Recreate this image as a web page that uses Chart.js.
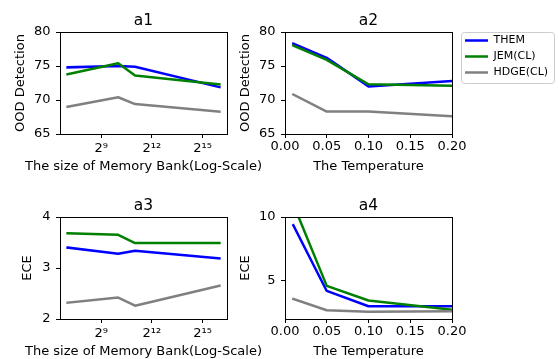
<!DOCTYPE html>
<html>
<head>
<meta charset="utf-8">
<script src="https://cdn.jsdelivr.net/npm/chart.js@4.4.0/dist/chart.umd.min.js"></script>
<style>
  html, body { margin: 0; padding: 0; background: #fff; }
  #fig { position: relative; width: 558px; height: 359px; overflow: hidden; background: #fff; }
  #fig canvas { position: absolute; }
</style>
</head>
<body>
<div id="fig">
  <canvas id="a1" width="280" height="177" style="left:0px;top:7px;width:280px;height:177px"></canvas>
  <canvas id="a2" width="247" height="177" style="left:225px;top:7px;width:247px;height:177px"></canvas>
  <canvas id="a3" width="280" height="177" style="left:0px;top:192px;width:280px;height:177px"></canvas>
  <canvas id="a4" width="247" height="177" style="left:225px;top:192px;width:247px;height:177px"></canvas>
  <canvas id="leg" width="98" height="130" style="left:460px;top:30px;width:98px;height:130px"></canvas>
</div>
<script>
// series
const seriesNames = ['THEM', 'JEM(CL)', 'HDGE(CL)'];
const seriesColors = ['#0000ff', '#008000', '#808080'];

// x values
const memSizes = [128, 1024, 2048, 65536];
const temps = [0.01, 0.05, 0.1, 0.2];

// a1: OOD detection vs memory bank size
const oodMemThem = [74.8, 75.0, 74.9, 71.9];
const oodMemJem = [73.8, 75.4, 73.6, 72.3];
const oodMemHdge = [69.0, 70.4, 69.4, 68.3];

// a2: OOD detection vs temperature
const oodTempThem = [78.3, 76.2, 72.0, 72.8];
const oodTempJem = [78.0, 75.9, 72.3, 72.1];
const oodTempHdge = [70.8, 68.3, 68.3, 67.6];

// a3: ECE vs memory bank size
const eceMemThem = [3.40, 3.28, 3.34, 3.19];
const eceMemJem = [3.68, 3.65, 3.49, 3.49];
const eceMemHdge = [2.32, 2.42, 2.26, 2.65];

// a4: ECE vs temperature
const eceTempThem = [9.35, 4.2, 3.0, 3.0];
const eceTempJem = [11.0, 4.6, 3.45, 2.72];
const eceTempHdge = [3.57, 2.69, 2.57, 2.61];

// tick labels
const memTicks = [512, 4096, 32768];
const tempTicks = [0, 0.05, 0.1, 0.15, 0.2];
const oodTicks = [65, 70, 75, 80];
const eceMemTicks = [2, 3, 4];
const eceTempTicks = [5, 10];

const FONT = 'DejaVu Sans';
Chart.defaults.font.family = FONT;
Chart.defaults.color = '#000';

const sup = n => String(n).split('').map(d => '⁰¹²³⁴⁵⁶⁷⁸⁹'[+d]).join('');
const memLabel = v => '2' + sup(Math.round(Math.log2(v)));
const tempLabel = v => Number(v).toFixed(2);

// black box round the plot area, drawn over the lines like matplotlib spines
const boxFrame = {
    id: 'boxFrame',
    afterDatasetsDraw(chart) {
        const { ctx, chartArea: a } = chart;
        const px = v => Math.round(v - 0.5) + 0.5;
        ctx.save();
        ctx.strokeStyle = '#000';
        ctx.lineWidth = 1;
        ctx.strokeRect(px(a.left), px(a.top), px(a.right) - px(a.left), px(a.bottom) - px(a.top));
        ctx.restore();
    }
};

// x axis label, not squeezed to the plot width (long label on a1/a3)
const xTitle = {
    id: 'xTitle',
    afterDraw(chart, args, opts) {
        const { ctx, chartArea: a } = chart;
        ctx.save();
        ctx.font = '13px "' + FONT + '"';
        ctx.fillStyle = '#000';
        ctx.textAlign = 'center';
        ctx.textBaseline = 'middle';
        ctx.fillText(opts.text, (a.left + a.right) / 2, a.bottom + 33);
        ctx.restore();
    }
};

function lineSets(xs, ysList) {
    return ysList.map((ys, i) => ({
        label: seriesNames[i],
        data: xs.map((x, j) => ({ x: x, y: ys[j] })),
        borderColor: seriesColors[i],
        backgroundColor: seriesColors[i],
        borderWidth: 2.5,
        pointRadius: 0,
        tension: 0,
        fill: false,
        clip: 0,
        borderJoinStyle: 'round',
        borderCapStyle: 'square',
        order: ysList.length - i
    }));
}

function xAxis(type, min, max, ticks, fmt, pad) {
    return {
        type: type, min: min, max: max,
        afterBuildTicks: s => { s.ticks = ticks.map(v => ({ value: v })); },
        afterFit: s => { s.height = 50; s.paddingLeft = 0; s.paddingRight = 0; },
        ticks: { autoSkip: false, maxRotation: 0, minRotation: 0, padding: pad, font: { size: 13 }, color: '#000', callback: fmt },
        grid: { drawOnChartArea: false, tickLength: 4, tickColor: '#000', tickWidth: 1 },
        border: { color: '#000', width: 1 }
    };
}

function yAxis(min, max, ticks, title, titlePad) {
    return {
        type: 'linear', min: min, max: max,
        afterBuildTicks: s => { s.ticks = ticks.map(v => ({ value: v })); },
        afterFit: s => { s.width = 60; s.paddingTop = 0; s.paddingBottom = 0; },
        ticks: { autoSkip: false, padding: 5.5, font: { size: 13 }, color: '#000' },
        grid: { drawOnChartArea: false, tickLength: 4, tickColor: '#000', tickWidth: 1 },
        border: { color: '#000', width: 1 },
        title: { display: true, text: title, font: { size: 13 }, color: '#000', padding: { top: titlePad, bottom: 0 } }
    };
}

function makeChart(id, name, datasets, x, y, xLabel, padRight) {
    return new Chart(document.getElementById(id), {
        type: 'line',
        data: { datasets: datasets },
        options: {
            responsive: false,
            animation: false,
            events: [],
            layout: { padding: { left: 0, top: 0, right: padRight, bottom: 0 } },
            plugins: {
                legend: { display: false },
                tooltip: { enabled: false },
                title: {
                    display: true, text: name, fullSize: false, color: '#000',
                    font: { size: 15.5, weight: 'normal' },
                    padding: { top: 4.3, bottom: 2.1 }
                },
                xTitle: { text: xLabel }
            },
            scales: { x: x, y: y }
        },
        plugins: [boxFrame, xTitle]
    });
}

// matplotlib style 5% margins on the log axis
const memLo = Math.log2(memSizes[0]);
const memHi = Math.log2(memSizes[memSizes.length - 1]);
const memMargin = (memHi - memLo) * 0.05;
const memMin = Math.pow(2, memLo - memMargin);
const memMax = Math.pow(2, memHi + memMargin);
const memTitle = 'The size of Memory Bank(Log-Scale)';
const tempTitle = 'The Temperature';

makeChart('a1', 'a1',
    lineSets(memSizes, [oodMemThem, oodMemJem, oodMemHdge]),
    xAxis('logarithmic', memMin, memMax, memTicks, memLabel, 3),
    yAxis(65, 80, oodTicks, 'OOD Detection', 13.2), memTitle, 53);

makeChart('a2', 'a2',
    lineSets(temps, [oodTempThem, oodTempJem, oodTempHdge]),
    xAxis('linear', 0, 0.2, tempTicks, tempLabel, 1),
    yAxis(65, 80, oodTicks, 'OOD Detection', 13.2), tempTitle, 20);

makeChart('a3', 'a3',
    lineSets(memSizes, [eceMemThem, eceMemJem, eceMemHdge]),
    xAxis('logarithmic', memMin, memMax, memTicks, memLabel, 3),
    yAxis(2, 4, eceMemTicks, 'ECE', 20.2), memTitle, 53);

makeChart('a4', 'a4',
    lineSets(temps, [eceTempThem, eceTempJem, eceTempHdge]),
    xAxis('linear', 0, 0.2, tempTicks, tempLabel, 1),
    yAxis(2, 10, eceTempTicks, 'ECE', 13.2), tempTitle, 20);

// legend outside the plots, with a light frame
const legendFrame = {
    id: 'legendFrame',
    beforeDraw(chart) {
        const boxes = chart.legend && chart.legend.legendHitBoxes;
        if (!boxes || !boxes.length) return;
        const x0 = Math.min(...boxes.map(b => b.left)) - 4;
        const y0 = Math.min(...boxes.map(b => b.top)) - 3;
        const x1 = Math.max(...boxes.map(b => b.left + b.width)) + 5.5;
        const y1 = Math.max(...boxes.map(b => b.top + b.height)) + 5;
        const ctx = chart.ctx;
        ctx.save();
        ctx.beginPath();
        ctx.roundRect(Math.round(x0) + 0.5, Math.round(y0) + 0.5, Math.round(x1 - x0), Math.round(y1 - y0), 3);
        ctx.fillStyle = 'rgba(255,255,255,0.8)';
        ctx.fill();
        ctx.strokeStyle = '#cccccc';
        ctx.lineWidth = 1;
        ctx.stroke();
        ctx.restore();
    }
};

new Chart(document.getElementById('leg'), {
    type: 'line',
    data: {
        datasets: seriesNames.map((n, i) => ({
            label: n, data: [],
            borderColor: seriesColors[i], backgroundColor: seriesColors[i], borderWidth: 2.5
        }))
    },
    options: {
        responsive: false,
        animation: false,
        events: [],
        layout: { padding: 0 },
        scales: { x: { display: false }, y: { display: false } },
        plugins: {
            tooltip: { enabled: false },
            legend: {
                position: 'top', align: 'start',
                labels: {
                    usePointStyle: true, pointStyle: 'line', pointStyleWidth: 23,
                    padding: 5, color: '#000', font: { size: 11 }
                }
            }
        }
    },
    plugins: [legendFrame]
});
</script>
</body>
</html>
